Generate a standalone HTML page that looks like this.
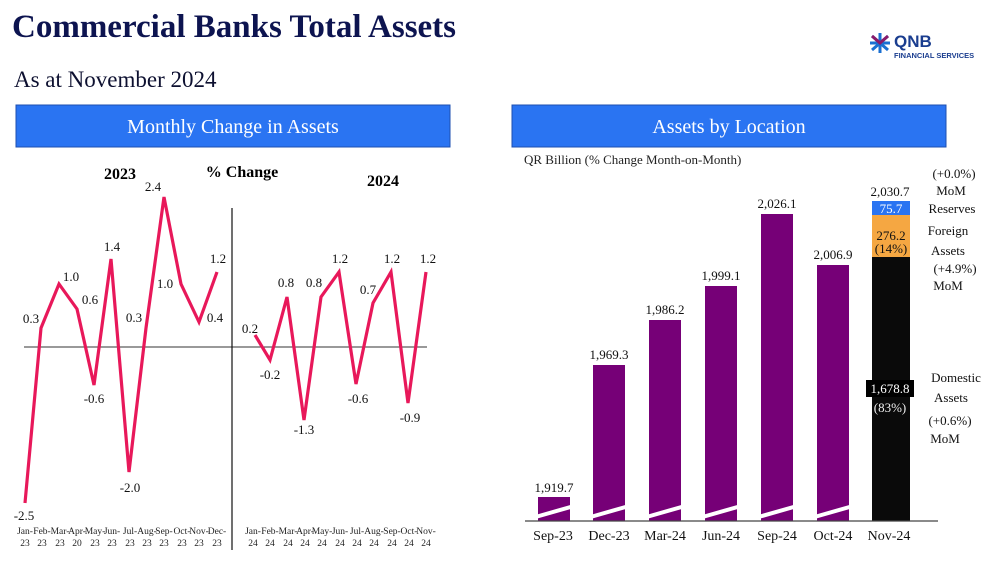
<!DOCTYPE html>
<html><head><meta charset="utf-8"><style>
body{margin:0;background:#fff;width:1000px;height:560px;overflow:hidden}
svg text{font-family:"Liberation Serif",serif}
</style></head><body>
<svg width="1000" height="560" xmlns="http://www.w3.org/2000/svg">
<text x="12" y="37" font-size="33" font-weight="bold" fill="#0d1450">Commercial Banks Total Assets</text>
<text x="14" y="87" font-size="23" fill="#0d1030">As at November 2024</text>
<g transform="translate(868,33)">
<path d="M12 0 L12 20 M2 10 L22 10 M4 3 L20 17 M20 3 L4 17" stroke="#1a6fd1" stroke-width="3"/>
<path d="M4 3 L12 10 L20 3" stroke="#8a1a6a" stroke-width="3" fill="none"/>
<text x="26" y="14" font-family="Liberation Sans" font-size="17" font-weight="bold" fill="#1a3d8f" style="font-family:'Liberation Sans',sans-serif">QNB</text>
<text x="26" y="25" font-size="7.5" font-weight="bold" fill="#1a3d8f" style="font-family:'Liberation Sans',sans-serif">FINANCIAL SERVICES</text>
</g>
<rect x="16" y="105" width="434" height="42" fill="#2a74f2" stroke="#1d4fb0"/>
<text x="233" y="133" font-size="20" fill="#fff" text-anchor="middle">Monthly Change in Assets</text>
<rect x="512" y="105" width="434" height="42" fill="#2a74f2" stroke="#1d4fb0"/>
<text x="729" y="133" font-size="20" fill="#fff" text-anchor="middle">Assets by Location</text>

<!-- left chart -->
<line x1="24" y1="347" x2="427" y2="347" stroke="#333" stroke-width="1"/>
<line x1="232" y1="208" x2="232" y2="550" stroke="#111" stroke-width="1.2"/>
<text x="120" y="179" font-size="16" font-weight="bold" text-anchor="middle">2023</text>
<text x="242" y="177" font-size="16" font-weight="bold" text-anchor="middle">% Change</text>
<text x="383" y="186" font-size="16" font-weight="bold" text-anchor="middle">2024</text>
<polyline fill="none" stroke="#e8185a" stroke-width="3.2" stroke-linejoin="miter" points="25,503 41,328 59,284 77,309 94,385 111,259 129,472 146,328 164,197 181,284 199,322 217,272"/>
<polyline fill="none" stroke="#e8185a" stroke-width="3.2" points="255,335 270,360 287,297 304,420 321,297 339,272 356,384 373,303 391,272 408,403 426,272"/>
<g font-size="13" text-anchor="middle" fill="#111">
<text x="24" y="520">-2.5</text><text x="31" y="323">0.3</text><text x="71" y="281">1.0</text><text x="90" y="304">0.6</text><text x="94" y="403">-0.6</text><text x="112" y="251">1.4</text><text x="130" y="492">-2.0</text><text x="134" y="322">0.3</text><text x="153" y="191">2.4</text><text x="165" y="288">1.0</text><text x="215" y="322">0.4</text><text x="218" y="263">1.2</text>
<text x="250" y="333">0.2</text><text x="270" y="379">-0.2</text><text x="286" y="287">0.8</text><text x="304" y="434">-1.3</text><text x="314" y="287">0.8</text><text x="340" y="263">1.2</text><text x="358" y="403">-0.6</text><text x="368" y="294">0.7</text><text x="392" y="263">1.2</text><text x="410" y="422">-0.9</text><text x="428" y="263">1.2</text>
</g>
<g font-size="9.5" text-anchor="middle" fill="#222">
<text x="25" y="534">Jan-</text><text x="42" y="534">Feb-</text><text x="60" y="534">Mar-</text><text x="77" y="534">Apr-</text><text x="95" y="534">May-</text><text x="112" y="534">Jun-</text><text x="130" y="534">Jul-</text><text x="147" y="534">Aug-</text><text x="164" y="534">Sep-</text><text x="182" y="534">Oct-</text><text x="199" y="534">Nov-</text><text x="217" y="534">Dec-</text>
<text x="25" y="546">23</text><text x="42" y="546">23</text><text x="60" y="546">23</text><text x="77" y="546">20</text><text x="95" y="546">23</text><text x="112" y="546">23</text><text x="130" y="546">23</text><text x="147" y="546">23</text><text x="164" y="546">23</text><text x="182" y="546">23</text><text x="199" y="546">23</text><text x="217" y="546">23</text>
<text x="253" y="534">Jan-</text><text x="270" y="534">Feb-</text><text x="288" y="534">Mar-</text><text x="305" y="534">Apr-</text><text x="322" y="534">May-</text><text x="340" y="534">Jun-</text><text x="357" y="534">Jul-</text><text x="374" y="534">Aug-</text><text x="392" y="534">Sep-</text><text x="409" y="534">Oct-</text><text x="426" y="534">Nov-</text>
<text x="253" y="546">24</text><text x="270" y="546">24</text><text x="288" y="546">24</text><text x="305" y="546">24</text><text x="322" y="546">24</text><text x="340" y="546">24</text><text x="357" y="546">24</text><text x="374" y="546">24</text><text x="392" y="546">24</text><text x="409" y="546">24</text><text x="426" y="546">24</text>
</g>

<!-- right chart -->
<text x="524" y="164" font-size="13" fill="#222">QR Billion (% Change Month-on-Month)</text>
<g fill="#760077">
<rect x="538" y="497" width="32" height="24"/>
<rect x="593" y="365" width="32" height="156"/>
<rect x="649" y="320" width="32" height="201"/>
<rect x="705" y="286" width="32" height="235"/>
<rect x="761" y="214" width="32" height="307"/>
<rect x="817" y="265" width="32" height="256"/>
</g>
<g stroke="#fff" stroke-width="4">
<line x1="532" y1="518" x2="574" y2="506"/><line x1="587" y1="518" x2="629" y2="506"/><line x1="643" y1="518" x2="685" y2="506"/><line x1="699" y1="518" x2="741" y2="506"/><line x1="755" y1="518" x2="797" y2="506"/><line x1="811" y1="518" x2="853" y2="506"/>
</g>
<rect x="872" y="257" width="38" height="264" fill="#0a0a0a"/>
<rect x="872" y="215" width="38" height="42" fill="#f5a742"/>
<rect x="872" y="201" width="38" height="14" fill="#2a74f2"/>
<line x1="525" y1="521" x2="938" y2="521" stroke="#444" stroke-width="1.2"/>
<g font-size="13" text-anchor="middle" fill="#111">
<text x="554" y="492">1,919.7</text><text x="609" y="359">1,969.3</text><text x="665" y="314">1,986.2</text><text x="721" y="280">1,999.1</text><text x="777" y="208">2,026.1</text><text x="833" y="259">2,006.9</text><text x="890" y="196">2,030.7</text>
<text x="553" y="540" font-size="14">Sep-23</text><text x="609" y="540" font-size="14">Dec-23</text><text x="665" y="540" font-size="14">Mar-24</text><text x="721" y="540" font-size="14">Jun-24</text><text x="777" y="540" font-size="14">Sep-24</text><text x="833" y="540" font-size="14">Oct-24</text><text x="889" y="540" font-size="14">Nov-24</text>
<text x="891" y="213" fill="#fff">75.7</text>
<text x="891" y="240">276.2</text><text x="891" y="253">(14%)</text>
<rect x="866" y="380" width="48" height="17" fill="#000"/>
<text x="890" y="393" fill="#fff">1,678.8</text><text x="890" y="412" fill="#eee">(83%)</text>
<text x="954" y="178">(+0.0%)</text><text x="951" y="195">MoM</text><text x="952" y="213">Reserves</text>
<text x="948" y="235">Foreign</text><text x="948" y="255">Assets</text><text x="955" y="273">(+4.9%)</text><text x="948" y="290">MoM</text>
<text x="956" y="382">Domestic</text><text x="951" y="402">Assets</text><text x="950" y="425">(+0.6%)</text><text x="945" y="443">MoM</text>
</g>
</svg>
</body></html>
